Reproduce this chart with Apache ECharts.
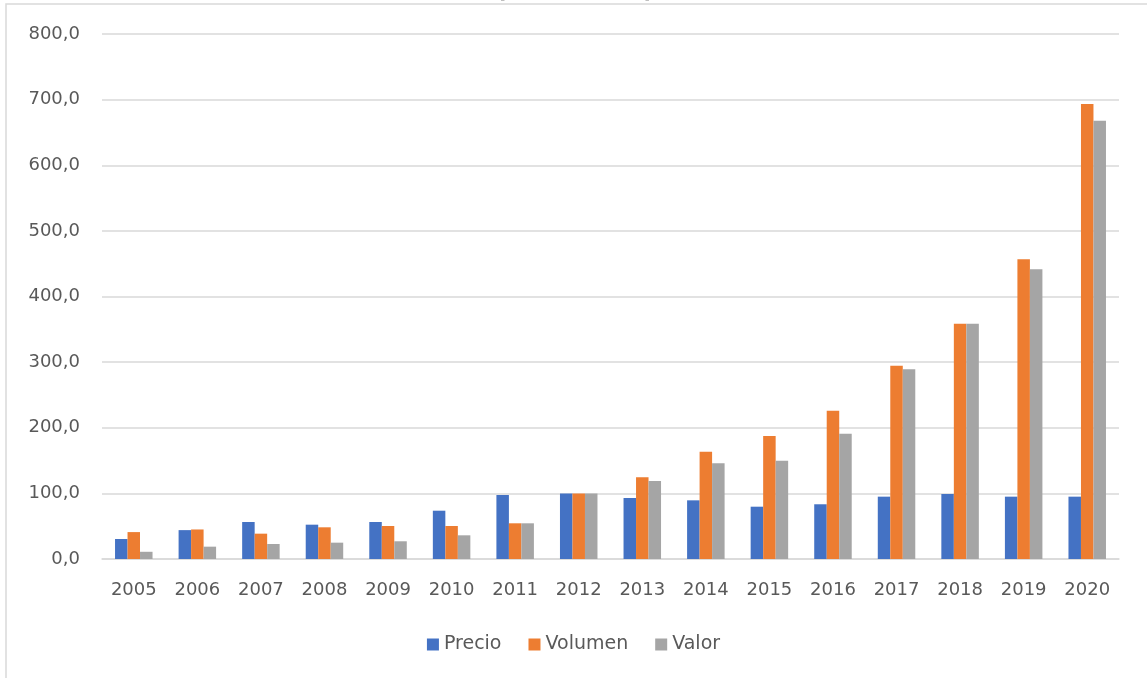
<!DOCTYPE html>
<html>
<head>
<meta charset="utf-8">
<script src="https://cdn.jsdelivr.net/npm/echarts@6/dist/echarts.min.js"></script>
<style>
  html, body { margin: 0; padding: 0; background: #fff; }
  #chart { width: 1147px; height: 678px; }
</style>
</head>
<body>
<div id="chart"></div>
<script>
// indices 2012 = 100
const years = ['2005', '2006', '2007', '2008', '2009', '2010', '2011', '2012',
  '2013', '2014', '2015', '2016', '2017', '2018', '2019', '2020']
const precio = [30.5, 44, 56.4, 52.3, 56.4, 73.6, 97.5, 100, 93, 89.4, 79.7, 83.4, 95, 99, 95, 95]
const volumen = [41, 45, 38.6, 48.3, 50.3, 50.3, 54.4, 100, 124.5, 163.5, 187.4, 226, 294.5, 358.6, 456.7, 693.3]
const valor = [11, 18.8, 22.9, 24.9, 27, 36.1, 54.4, 100, 118.9, 145.8, 149.8, 191, 289, 358.6, 441.4, 668]
const seriesNames = ['Precio', 'Volumen', 'Valor']
const colors = ['#4472C4', '#ED7D31', '#A5A5A5']

const font = 'DejaVu Sans'
const chart = echarts.init(document.getElementById('chart'))

const makeBar = (name, data) => ({
  name: name,
  type: 'bar',
  data: data,
  barWidth: 12.5,
  barGap: '0%',
  animation: false
})

const option = {
  backgroundColor: '#fff',
  color: colors,
  textStyle: { fontFamily: font },
  graphic: [
    {
      type: 'rect',
      shape: { x: 6, y: 4, width: 1160, height: 700 },
      style: { fill: 'none', stroke: '#D9D9D9', lineWidth: 1.5 },
      silent: true
    },
    {
      type: 'text',
      x: 575,
      y: 3,
      style: {
        text: '(2012=100)',
        font: 'bold 24px ' + font,
        fill: '#000',
        align: 'center',
        verticalAlign: 'bottom'
      },
      silent: true
    }
  ],
  legend: {
    data: seriesNames,
    bottom: 19,
    left: 'center',
    itemWidth: 12,
    itemHeight: 12,
    itemGap: 27,
    icon: 'rect',
    textStyle: { color: '#595959', fontSize: 19, fontFamily: font }
  },
  grid: {
    left: 102,
    right: 28,
    top: 34,
    bottom: 119,
    containLabel: false
  },
  xAxis: {
    type: 'category',
    data: years,
    axisTick: { show: false },
    axisLine: { lineStyle: { color: '#D9D9D9', width: 1.5 } },
    axisLabel: { color: '#595959', fontSize: 18, margin: 22, fontFamily: font }
  },
  yAxis: {
    type: 'value',
    min: 0,
    max: 800,
    interval: 100,
    axisLine: { show: false },
    axisTick: { show: false },
    splitLine: { lineStyle: { color: '#D9D9D9', width: 1.5 } },
    axisLabel: {
      color: '#595959',
      fontSize: 18,
      margin: 22,
      fontFamily: font,
      formatter: v => v.toFixed(1).replace('.', ',')
    }
  },
  series: [
    makeBar(seriesNames[0], precio),
    makeBar(seriesNames[1], volumen),
    makeBar(seriesNames[2], valor)
  ]
}

chart.setOption(option)
</script>
</body>
</html>
